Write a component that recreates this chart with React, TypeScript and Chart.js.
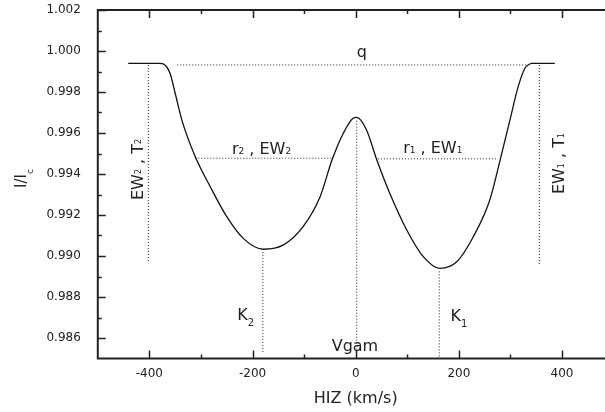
import React, { useEffect, useRef } from 'react';
import { Chart, registerables } from 'chart.js';

Chart.register(...registerables);

// Line profile (velocity in km/s, normalized intensity I/Ic)
const velocity = [-441, -399, -380, -373, -360, -350, -337, -311, -282, -250, -218, -179, -140, -102, -69, -46, -24, -5, 2, 21, 41, 66, 99, 131, 163, 196, 228, 260, 280, 299, 315, 328, 335, 341, 386];
const flux = [0.9994, 0.9994, 0.9994, 0.99937, 0.99891, 0.99794, 0.99663, 0.99484, 0.99338, 0.99192, 0.99086, 0.99033, 0.99054, 0.99143, 0.99289, 0.99468, 0.99599, 0.99672, 0.99676, 0.99615, 0.99468, 0.99306, 0.99127, 0.98997, 0.9894, 0.98972, 0.99094, 0.99273, 0.99468, 0.99663, 0.99826, 0.99916, 0.99933, 0.9994, 0.9994];

// Dotted marker lines
const qLineX = [-346, 334];
const qLineY = [0.99932, 0.99932];
const r2LineX = [-311, -44];
const r2LineY = [0.99477, 0.99477];
const r1LineX = [43, 276];
const r1LineY = [0.99474, 0.99474];
const ew2LineX = [-402, -402];
const ew2LineY = [0.99932, 0.98966];
const ew1LineX = [356, 356];
const ew1LineY = [0.99932, 0.98956];
const vgamLineX = [2, 2];
const vgamLineY = [0.9966, 0.985];
const k2LineX = [-180, -180];
const k2LineY = [0.9902, 0.98527];
const k1LineX = [162, 162];
const k1LineY = [0.98925, 0.9851];

// Axis ticks
const xMajorTicks = [-400, -200, 0, 200, 400];
const xMinorTicks = [-300, -100, 100, 300];
const yMajorTicks = [0.986, 0.988, 0.99, 0.992, 0.994, 0.996, 0.998, 1.0, 1.002];
const yMinorTicks = [0.987, 0.989, 0.991, 0.993, 0.995, 0.997, 0.999, 1.001];

const xTitle = 'HIZ (km/s)';

type Part = [string, boolean];
interface Label { parts: Part[]; x: number; y: number; rot: boolean; subDy: number; subSize: number }

const labels: Label[] = [
  { parts: [['q', false]], x: 2, y: 0.99972, rot: false, subDy: 0, subSize: 9 },
  { parts: [['r', false], ['2', true], [' , ', false], ['EW', false], ['2', true]], x: -240, y: 0.99496, rot: false, subDy: 0, subSize: 9 },
  { parts: [['r', false], ['1', true], [' , ', false], ['EW', false], ['1', true]], x: 92, y: 0.99501, rot: false, subDy: 0, subSize: 9 },
  { parts: [['K', false], ['2', true]], x: -229.5, y: 0.98688, rot: false, subDy: 6, subSize: 10 },
  { parts: [['K', false], ['1', true]], x: 184, y: 0.98684, rot: false, subDy: 6, subSize: 10 },
  { parts: [['Vgam', false]], x: -46.5, y: 0.98538, rot: false, subDy: 0, subSize: 9 },
  { parts: [['EW', false], ['2', true], [' , ', false], ['T', false], ['2', true]], x: -413, y: 0.99273, rot: true, subDy: -1.5, subSize: 8 },
  { parts: [['EW', false], ['1', true], [' , ', false], ['T', false], ['1', true]], x: 403, y: 0.99302, rot: true, subDy: 0, subSize: 8 },
];

const FONT = '"DejaVu Sans"';
const TEXT = '#222';

function drawRich(ctx: CanvasRenderingContext2D, parts: Part[], x: number, y: number, rot: boolean, subDy: number, size: number, subSize: number) {
  ctx.save();
  ctx.translate(x, y);
  if (rot) ctx.rotate(-Math.PI / 2);
  ctx.textBaseline = 'alphabetic';
  ctx.textAlign = 'left';
  ctx.fillStyle = TEXT;
  let cx = 0;
  for (const [t, sub] of parts) {
    ctx.font = `${sub ? subSize : size}px ${FONT}`;
    ctx.fillText(t, cx, sub ? subDy : 0);
    cx += ctx.measureText(t).width;
  }
  ctx.restore();
}

const decorPlugin = {
  id: 'decor',
  afterDatasetsDraw(chart: any) {
    const { ctx, chartArea: a } = chart;
    const xs = chart.scales.x;
    const ys = chart.scales.y;
    ctx.save();
    ctx.strokeStyle = '#222';
    ctx.lineWidth = 2;
    ctx.strokeRect(a.left, a.top, a.right - a.left, a.bottom - a.top);
    ctx.lineWidth = 1.5;
    ctx.beginPath();
    const xt = (vals: number[], len: number) => {
      for (const v of vals) {
        const px = Math.round(xs.getPixelForValue(v)) + 0.5;
        ctx.moveTo(px, a.bottom); ctx.lineTo(px, a.bottom - len);
        ctx.moveTo(px, a.top); ctx.lineTo(px, a.top + len);
      }
    };
    const yt = (vals: number[], len: number) => {
      for (const v of vals) {
        const py = Math.round(ys.getPixelForValue(v)) + 0.5;
        ctx.moveTo(a.left, py); ctx.lineTo(a.left + len, py);
        ctx.moveTo(a.right, py); ctx.lineTo(a.right - len, py);
      }
    };
    xt(xMajorTicks, 8); xt(xMinorTicks, 4);
    yt(yMajorTicks, 8); yt(yMinorTicks, 4);
    ctx.stroke();
    ctx.restore();

    for (const l of labels) {
      drawRich(ctx, l.parts, xs.getPixelForValue(l.x), ys.getPixelForValue(l.y), l.rot, l.subDy, 16, l.subSize);
    }
    // axis titles
    ctx.save();
    ctx.fillStyle = TEXT;
    ctx.font = `16px ${FONT}`;
    ctx.textAlign = 'center';
    ctx.textBaseline = 'alphabetic';
    ctx.fillText(xTitle, (a.left + a.right) / 2, 403);
    ctx.restore();
    drawRich(ctx, [['I/I', false], ['c', true]], 26, 188, true, 7, 15, 9);
  },
};

export default function App() {
  const ref = useRef<HTMLCanvasElement>(null);
  useEffect(() => {
    const dotted = (xv: number[], yv: number[]) => ({
      data: xv.map((v, i) => ({ x: v, y: yv[i] })),
      borderColor: '#222',
      borderWidth: 1,
      borderDash: [1, 2],
      pointRadius: 0,
      tension: 0,
      fill: false,
    });
    const chart = new Chart(ref.current as HTMLCanvasElement, {
      type: 'line',
      data: {
        datasets: [
          {
            data: velocity.map((v, i) => ({ x: v, y: flux[i] })),
            borderColor: '#111',
            borderWidth: 1.3,
            pointRadius: 0,
            cubicInterpolationMode: 'monotone',
            fill: false,
          } as any,
          dotted(qLineX, qLineY),
          dotted(r2LineX, r2LineY),
          dotted(r1LineX, r1LineY),
          dotted(ew2LineX, ew2LineY),
          dotted(ew1LineX, ew1LineY),
          dotted(vgamLineX, vgamLineY),
          dotted(k2LineX, k2LineY),
          dotted(k1LineX, k1LineY),
        ],
      },
      options: {
        animation: false,
        responsive: false,
        layout: { padding: { left: 0, right: 6.4, top: 10, bottom: 0 } },
        plugins: { legend: { display: false }, tooltip: { enabled: false } },
        scales: {
          x: {
            type: 'linear',
            min: -500,
            max: 500,
            grid: { display: false },
            border: { display: false },
            afterBuildTicks: (s: any) => { s.ticks = xMajorTicks.map((v) => ({ value: v })); },
            afterFit: (s: any) => { s.height = 53.5; s.paddingLeft = 0; s.paddingRight = 0; },
            ticks: {
              autoSkip: false,
              maxRotation: 0,
              padding: 0,
              color: TEXT,
              font: { family: 'DejaVu Sans', size: 12 },
              callback: (v: any) => String(v),
            },
          },
          y: {
            type: 'linear',
            min: 0.985,
            max: 1.002,
            grid: { display: false },
            border: { display: false },
            afterBuildTicks: (s: any) => { s.ticks = yMajorTicks.map((v) => ({ value: v })); },
            afterFit: (s: any) => { s.width = 97.8; s.paddingTop = 0; s.paddingBottom = 0; },
            ticks: {
              autoSkip: false,
              padding: 9,
              color: TEXT,
              font: { family: 'DejaVu Sans', size: 12 },
              callback: (v: any) => Number(v).toFixed(3),
            },
          },
        },
      },
      plugins: [decorPlugin],
    } as any);
    return () => chart.destroy();
  }, []);
  return (
    <div style={{ position: 'fixed', left: 0, top: 0, width: 605, height: 412, overflow: 'hidden', background: '#fff' }}>
      <canvas ref={ref} width={620} height={412} style={{ display: 'block', width: 620, height: 412 }} />
    </div>
  );
}
